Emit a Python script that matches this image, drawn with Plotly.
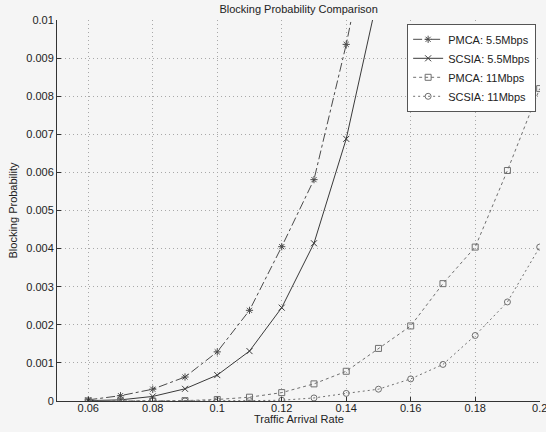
import plotly.graph_objects as go

rates_55 = [0.06, 0.07, 0.08, 0.09, 0.10, 0.11, 0.12, 0.13, 0.14, 0.15]
pmca_55 = [0.00003, 0.00014, 0.00031, 0.00063, 0.00129, 0.00238, 0.00405, 0.00581, 0.00936, 0.0135]
scsia_55 = [0.00001, 0.00003, 0.00012, 0.00032, 0.00068, 0.00131, 0.00245, 0.00414, 0.00688, 0.0107]

rates_11 = [0.06, 0.07, 0.08, 0.09, 0.10, 0.11, 0.12, 0.13, 0.14, 0.15, 0.16, 0.17, 0.18, 0.19, 0.20]
pmca_11 = [0.0, 0.0, 0.0, 0.00001, 0.00004, 0.0001, 0.00022, 0.00045, 0.00078, 0.00138, 0.00197, 0.00308, 0.00404, 0.00605, 0.0082]
scsia_11 = [0.0, 0.0, 0.0, 0.0, 0.00001, 0.00001, 0.00002, 0.00008, 0.0002, 0.00031, 0.00058, 0.00096, 0.00172, 0.0026, 0.00404]

x_ticks = [0.06, 0.08, 0.10, 0.12, 0.14, 0.16, 0.18, 0.20]
x_ticktext = ["0.06", "0.08", "0.1", "0.12", "0.14", "0.16", "0.18", "0.2"]
y_ticks = [0, 0.001, 0.002, 0.003, 0.004, 0.005, 0.006, 0.007, 0.008, 0.009, 0.01]
y_ticktext = ["0", "0.001", "0.002", "0.003", "0.004", "0.005", "0.006", "0.007", "0.008", "0.009", "0.01"]

series = [
    ("PMCA: 5.5Mbps", rates_55, pmca_55, "dashdot", "asterisk-open", "#4a4a4a"),
    ("SCSIA: 5.5Mbps", rates_55, scsia_55, "solid", "x-thin-open", "#3a3a3a"),
    ("PMCA: 11Mbps", rates_11, pmca_11, "3px,3px", "square-open", "#707070"),
    ("SCSIA: 11Mbps", rates_11, scsia_11, "2px,3px", "circle-open", "#707070"),
]

fig = go.Figure()
for name, xs, ys, dash, sym, col in series:
    fig.add_trace(go.Scatter(
        x=xs, y=ys, name=name, mode="lines+markers",
        line=dict(color=col, width=1, dash=dash),
        marker=dict(symbol=sym, size=6, color=col, line=dict(width=1, color=col)),
    ))

fnt = "Liberation Sans, Arial, sans-serif"
grid = dict(showgrid=True, gridcolor="#a8a8a8", griddash="1px,3px", gridwidth=1,
            zeroline=False, showline=True, linecolor="#333333", linewidth=1,
            ticks="inside", ticklen=4, tickcolor="#333333", automargin=False)
fig.update_layout(
    width=546, height=432,
    margin=dict(l=57, r=6, t=20, b=31),
    paper_bgcolor="#f5f5f5", plot_bgcolor="#f5f5f5",
    font=dict(family=fnt, size=11, color="#222222"),
    title=dict(text="Blocking Probability Comparison", x=0.547, xanchor="center",
               y=0.988, yanchor="top", font=dict(size=11, color="#222222")),
    showlegend=True,
    legend=dict(x=0.992, y=0.99, xanchor="right", yanchor="top",
                bgcolor="#ffffff", bordercolor="#555555", borderwidth=1,
                font=dict(size=11), tracegroupgap=0, itemwidth=30),
    xaxis=dict(range=[0.0503, 0.2001], tickvals=x_ticks, ticktext=x_ticktext,
               ticklabelstandoff=-3, ticklabeloverflow="allow", **grid),
    yaxis=dict(range=[0, 0.01], tickvals=y_ticks, ticktext=y_ticktext,
               title=dict(text="Blocking Probability", standoff=6, font=dict(size=11)),
               **grid),
    annotations=[dict(text="Traffic Arrival Rate", xref="paper", yref="paper",
                      x=0.5, y=-0.047, xanchor="center", yanchor="middle",
                      showarrow=False, font=dict(size=11, color="#222222"))],
)
fig.write_html("out.html")
